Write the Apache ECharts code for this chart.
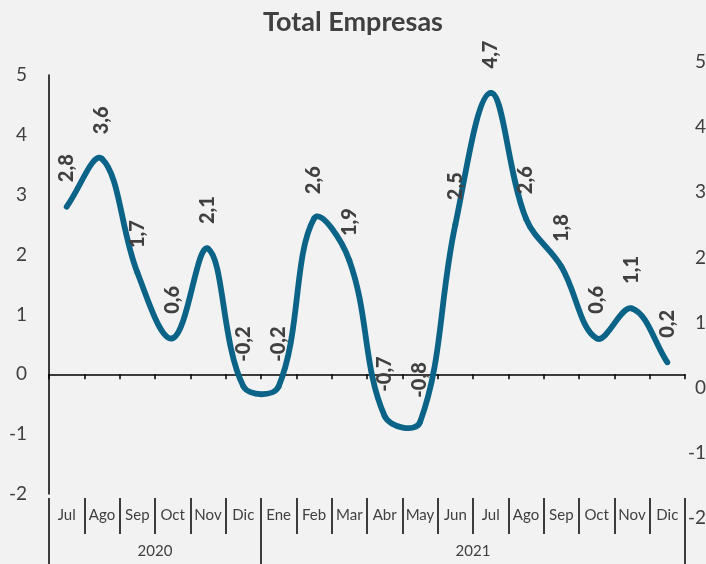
<!DOCTYPE html>
<html>
<head>
<meta charset="utf-8">
<title>Total Empresas</title>
<script src="https://cdn.jsdelivr.net/npm/echarts@6/dist/echarts.min.js"></script>
<style>
html, body { margin: 0; padding: 0; background: #f2f2f2; }
#chart { width: 706px; height: 564px; }
</style>
</head>
<body>
<div id="chart"></div>
<script>
// datos
var months = ['Jul', 'Ago', 'Sep', 'Oct', 'Nov', 'Dic', 'Ene', 'Feb', 'Mar', 'Abr', 'May', 'Jun', 'Jul', 'Ago', 'Sep', 'Oct', 'Nov', 'Dic'];
var values = [2.8, 3.6, 1.7, 0.6, 2.1, -0.2, -0.2, 2.6, 1.9, -0.7, -0.8, 2.5, 4.7, 2.6, 1.8, 0.6, 1.1, 0.2];
var years = ['2020', '2021'];
var yearMonths = [6, 12];

var textColor = '#404040';
var lineColor = '#0b6488';
var font = 'Lato, "Open Sans", sans-serif';
var smooth = 0.38;

// eje de años: medio mes por punto, para centrar cada año en su tramo
var yearSlots = [];
for (var i = 0; i <= months.length * 2; i++) yearSlots.push('');
var yearEdges = [0];
var start = 0;
for (var k = 0; k < years.length; k++) {
  yearSlots[start * 2 + yearMonths[k]] = years[k];
  start += yearMonths[k];
  yearEdges.push(start * 2);
}

// puntos de control tipo Excel (sin recorte, para que la curva se pase un poco)
function controlPoints(pts, i) {
  var p = pts[i];
  var prev = pts[i - 1] || p;
  var next = pts[i + 1] || p;
  var vx = next[0] - prev[0], vy = next[1] - prev[1];
  var lp = Math.hypot(p[0] - prev[0], p[1] - prev[1]);
  var ln = Math.hypot(next[0] - p[0], next[1] - p[1]);
  var r = (lp + ln) ? ln / (lp + ln) : 0.5;
  return {
    before: [p[0] - vx * smooth * (1 - r), p[1] - vy * smooth * (1 - r)],
    after: [p[0] + vx * smooth * r, p[1] + vy * smooth * r]
  };
}

function renderCurve(params, api) {
  var i = params.dataIndex;
  if (i >= values.length - 1) return null;
  var pts = values.map(function (v, j) { return api.coord([j, v]); });
  var a = controlPoints(pts, i), b = controlPoints(pts, i + 1);
  return {
    type: 'bezierCurve',
    shape: {
      x1: pts[i][0], y1: pts[i][1],
      cpx1: a.after[0], cpy1: a.after[1],
      cpx2: b.before[0], cpy2: b.before[1],
      x2: pts[i + 1][0], y2: pts[i + 1][1]
    },
    style: { fill: null, stroke: lineColor, lineWidth: 5.8, lineCap: 'round' }
  };
}

var myChart = echarts.init(document.getElementById('chart'));
myChart.setOption({
  backgroundColor: '#f2f2f2',
  animation: false,
  title: {
    text: 'Total Empresas',
    left: 'center',
    top: 4,
    textStyle: { fontFamily: font, fontSize: 27, fontWeight: 'bold', color: textColor }
  },
  grid: [
    { left: 49, right: 21, top: 75, bottom: 70, containLabel: false, outerBoundsMode: 'none' },
    { left: 49, right: 21, top: 62, bottom: 46, containLabel: false, outerBoundsMode: 'none' }
  ],
  xAxis: [
    {
      type: 'category',
      gridIndex: 0,
      data: months,
      axisLine: { onZero: true, lineStyle: { color: '#000', width: 1.5 } },
      axisTick: { show: true, length: 5, lineStyle: { color: '#000', width: 1.5 } },
      axisLabel: { show: false },
      splitLine: { show: false }
    },
    {
      type: 'category',
      gridIndex: 0,
      data: months,
      position: 'bottom',
      offset: 4,
      axisLine: { show: false, onZero: false },
      axisTick: { show: true, interval: 0, length: 36, lineStyle: { color: '#000', width: 1.5 } },
      axisLabel: { interval: 0, margin: 10, fontFamily: font, fontSize: 15, color: textColor },
      splitLine: { show: false }
    },
    {
      type: 'category',
      gridIndex: 0,
      data: yearSlots,
      boundaryGap: false,
      position: 'bottom',
      offset: 4,
      axisLine: { show: false, onZero: false },
      axisTick: {
        show: true,
        length: 70,
        interval: function (idx) { return yearEdges.indexOf(idx) >= 0; },
        lineStyle: { color: '#000', width: 1.5 }
      },
      axisLabel: {
        interval: function (idx, val) { return val !== ''; },
        margin: 46,
        fontFamily: font, fontSize: 15, color: textColor
      },
      splitLine: { show: false }
    },
    { type: 'value', gridIndex: 1, show: false, min: 0, max: 1 }
  ],
  yAxis: [
    {
      type: 'value',
      gridIndex: 0,
      min: -2,
      max: 5,
      interval: 1,
      axisLine: { show: true, lineStyle: { color: '#000', width: 1.5 } },
      axisTick: { show: false },
      splitLine: { show: false },
      axisLabel: { margin: 22, fontFamily: font, fontSize: 19, color: textColor }
    },
    {
      type: 'value',
      gridIndex: 1,
      position: 'right',
      min: -2,
      max: 5,
      interval: 1,
      axisLine: { show: false },
      axisTick: { show: false },
      splitLine: { show: false },
      axisLabel: { align: 'right', margin: 21, fontFamily: font, fontSize: 19, color: textColor }
    }
  ],
  series: [
    {
      name: 'curva',
      type: 'custom',
      xAxisIndex: 0,
      yAxisIndex: 0,
      data: values.map(function (v, j) { return [j, v]; }),
      renderItem: renderCurve,
      z: 2
    },
    {
      name: 'Total Empresas',
      type: 'line',
      xAxisIndex: 0,
      yAxisIndex: 0,
      data: values,
      symbol: 'circle',
      symbolSize: 1,
      itemStyle: { color: 'rgba(0,0,0,0)' },
      lineStyle: { width: 0, opacity: 0 },
      z: 3,
      label: {
        show: true,
        position: 'top',
        distance: 21,
        offset: [3, 0],
        rotate: 90,
        align: 'left',
        verticalAlign: 'middle',
        fontFamily: font,
        fontSize: 20,
        fontWeight: 900,
        color: textColor,
        formatter: function (p) { return p.value.toFixed(1).replace('.', ','); }
      }
    }
  ]
});
</script>
</body>
</html>
